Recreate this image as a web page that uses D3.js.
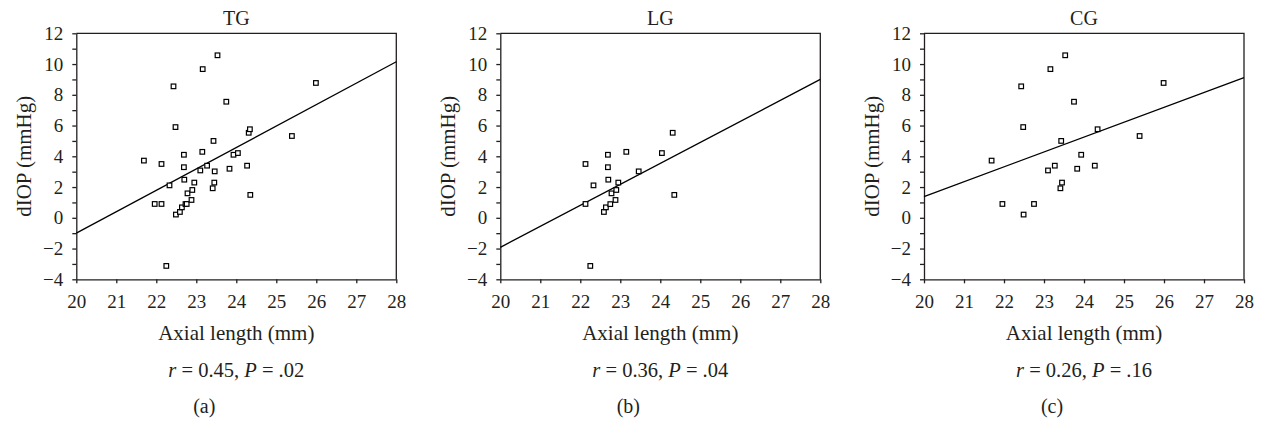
<!DOCTYPE html>
<html lang="en">
<head>
    <meta charset="UTF-8">
    <title>dIOP vs axial length</title>
    <script src="https://d3js.org/d3.v7.min.js"></script>
    <style>
        body {
            margin: 0;
            background: #fff;
        }
        svg {
            font-family: 'Liberation Serif', 'Times New Roman', serif;
            fill: #231f20;
        }
        .axis path, .axis line, .frame {
            stroke: #231f20;
            stroke-width: 1.3;
        }
        .axis text {
            font-size: 19px;
            fill: #231f20;
        }
        .fit {
            fill: none;
            stroke: #000;
            stroke-width: 1.3;
        }
        .dot {
            fill: #fff;
            stroke: #000;
            stroke-width: 1.2;
        }
    </style>
</head>
<body>
<div id="chart"></div>
<script>
    // values
    const groups = ["TG", "LG", "CG"];
    const captions = ["(a)", "(b)", "(c)"];
    const rValues = ["0.45", "0.36", "0.26"];
    const pValues = [".02", ".04", ".16"];

    const tgAxial = [21.69, 21.96, 22.13, 22.13, 22.25, 22.33, 22.43, 22.48, 22.49, 22.59,
        22.64, 22.69, 22.69, 22.70, 22.73, 22.76, 22.78, 22.88, 22.90, 22.95,
        23.10, 23.15, 23.16, 23.27, 23.41, 23.43, 23.46, 23.45, 23.53, 23.75,
        23.83, 23.93, 24.04, 24.27, 24.31, 24.34, 24.35, 25.39, 25.99];
    const tgDiop = [3.72, 0.90, 0.90, 3.50, -3.13, 2.11, 8.55, 5.90, 0.21, 0.38,
        0.68, 4.10, 3.29, 2.48, 0.89, 0.90, 1.59, 1.16, 1.81, 2.29,
        3.08, 4.29, 9.67, 3.39, 1.92, 5.00, 3.02, 2.29, 10.57, 7.55,
        3.19, 4.10, 4.21, 3.39, 5.53, 5.76, 1.49, 5.32, 8.77];

    const lgAxial = [22.13, 22.13, 22.25, 22.33, 22.59, 22.64, 22.69, 22.69, 22.70, 22.75,
        22.78, 22.88, 22.90, 22.95, 23.15, 23.46, 24.04, 24.31, 24.35];
    const lgDiop = [3.50, 0.90, -3.13, 2.11, 0.38, 0.68, 4.10, 3.29, 2.48, 0.89,
        1.59, 1.16, 1.81, 2.29, 4.29, 3.02, 4.21, 5.53, 1.49];

    const cgAxial = [21.69, 21.96, 22.43, 22.48, 22.49, 22.75, 23.10, 23.16, 23.27, 23.41,
        23.43, 23.45, 23.53, 23.75, 23.83, 23.93, 24.27, 24.34, 25.39, 25.99];
    const cgDiop = [3.72, 0.90, 8.55, 5.90, 0.21, 0.90, 3.08, 9.67, 3.39, 1.92,
        5.00, 2.29, 10.57, 7.55, 3.19, 4.10, 3.39, 5.76, 5.32, 8.77];

    // regression line ends at x = 20 and x = 28
    const fitStart = [-1.00, -1.92, 1.38];
    const fitEnd = [10.15, 9.00, 9.12];

    const xTicks = [20, 21, 22, 23, 24, 25, 26, 27, 28];
    const yTicks = [-4, -3, -2, -1, 0, 1, 2, 3, 4, 5, 6, 7, 8, 9, 10, 11, 12];

    const axialData = [tgAxial, lgAxial, cgAxial];
    const diopData = [tgDiop, lgDiop, cgDiop];

    const serif = "'Liberation Serif', 'Times New Roman', serif";

    // layout
    const panelLeft = [0, 424, 847.7];
    const margin = { top: 33.3, left: 76.3 };
    const width = 320;
    const height = 246;

    const svg = d3.select("#chart")
        .append("svg")
        .attr("width", 1263)
        .attr("height", 423);

    const x = d3.scaleLinear().domain([20, 28]).range([0, width]);
    const y = d3.scaleLinear().domain([-4, 12]).range([height, 0]);

    groups.forEach((name, i) => {
        const g = svg.append("g")
            .attr("transform", `translate(${panelLeft[i] + margin.left},${margin.top})`);

        const points = axialData[i].map((a, j) => ({ a, d: diopData[i][j] }));

        // frame top and right
        g.append("path")
            .attr("class", "frame")
            .attr("fill", "none")
            .attr("d", `M0,0H${width}V${height}`);

        // Y axis
        g.append("g")
            .attr("class", "axis")
            .call(d3.axisLeft(y)
                .tickValues(yTicks)
                .tickSize(4)
                .tickSizeOuter(0)
                .tickPadding(9)
                .tickFormat(d => d % 2 === 0 ? d3.format("d")(d) : ""));

        // X axis
        g.append("g")
            .attr("class", "axis")
            .attr("transform", `translate(0,${height})`)
            .call(d3.axisBottom(x)
                .tickValues(xTicks)
                .tickSize(4)
                .tickSizeOuter(0)
                .tickPadding(11)
                .tickFormat(d3.format("d")));

        g.selectAll(".axis").attr("font-family", serif).attr("font-size", 19);

        // fit line
        g.append("line")
            .attr("class", "fit")
            .attr("x1", x(20))
            .attr("y1", y(fitStart[i]))
            .attr("x2", x(28))
            .attr("y2", y(fitEnd[i]));

        // points
        g.selectAll(".dot")
            .data(points)
            .enter()
            .append("rect")
            .attr("class", "dot")
            .attr("x", d => x(d.a) - 2.3)
            .attr("y", d => y(d.d) - 2.3)
            .attr("width", 4.6)
            .attr("height", 4.6);

        // title
        g.append("text")
            .attr("x", width / 2)
            .attr("y", -8)
            .attr("text-anchor", "middle")
            .attr("font-size", 20)
            .text(name);

        // y label
        g.append("text")
            .attr("transform", `translate(-45,${height / 2}) rotate(-90)`)
            .attr("text-anchor", "middle")
            .attr("font-size", 21)
            .text("dIOP (mmHg)");

        // x label
        g.append("text")
            .attr("x", width / 2)
            .attr("y", height + 61)
            .attr("text-anchor", "middle")
            .attr("font-size", 21)
            .text("Axial length (mm)");

        // stats
        const stat = g.append("text")
            .attr("x", width / 2)
            .attr("y", height + 98)
            .attr("text-anchor", "middle")
            .attr("font-size", 20.5);
        stat.append("tspan").attr("font-style", "italic").text("r");
        stat.append("tspan").text(` = ${rValues[i]}, `);
        stat.append("tspan").attr("font-style", "italic").text("P");
        stat.append("tspan").text(` = ${pValues[i]}`);

        // caption
        g.append("text")
            .attr("x", width / 2 - 32)
            .attr("y", height + 134)
            .attr("text-anchor", "middle")
            .attr("font-size", 20)
            .text(captions[i]);
    });
</script>
</body>
</html>
